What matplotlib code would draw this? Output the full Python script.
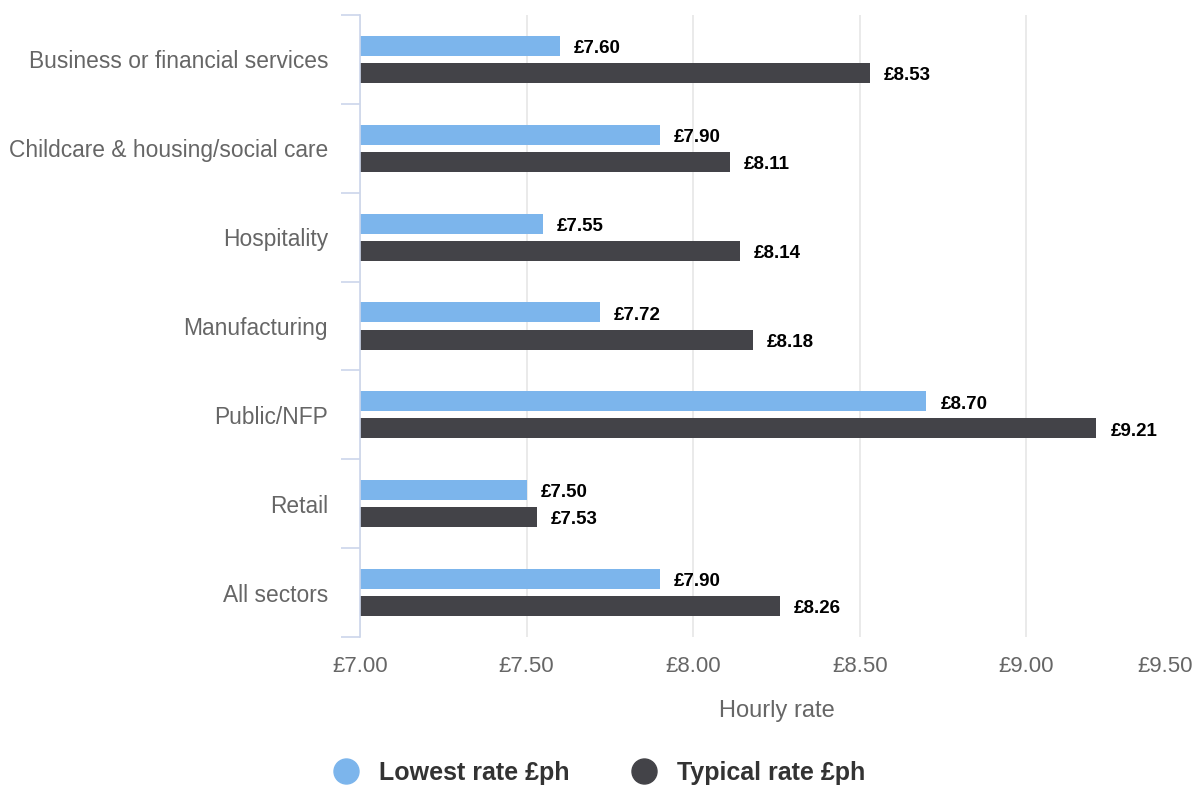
import numpy as np
import matplotlib.pyplot as plt
from matplotlib.lines import Line2D

plt.rcParams['font.family'] = ['Liberation Sans', 'DejaVu Sans']

sectors = ['Business or financial services', 'Childcare & housing/social care',
           'Hospitality', 'Manufacturing', 'Public/NFP', 'Retail', 'All sectors']
lowest = [7.60, 7.90, 7.55, 7.72, 8.70, 7.50, 7.90]
typical = [8.53, 8.11, 8.14, 8.18, 9.21, 7.53, 8.26]
xticks = [7.0, 7.5, 8.0, 8.5, 9.0, 9.5]

c_low = '#7cb5ec'
c_typ = '#434348'
c_axis = '#ccd6eb'
c_text = '#666666'

fig = plt.figure(figsize=(11.93, 7.86), dpi=100)
ax = fig.add_axes([360 / 1193, 149 / 786, 833 / 1193, 622 / 786])

y = np.arange(len(sectors))
off = 0.152
h = 0.225
ax.barh(y - off, lowest, height=h, color=c_low, zorder=3)
ax.barh(y + off, typical, height=h, color=c_typ, zorder=3)

for yi, v in zip(y - off, lowest):
    ax.annotate(f'£{v:.2f}', (v, yi), xytext=(10, -2), textcoords='offset points',
                va='center', ha='left', fontsize=13.5, fontweight='bold', color='black')
for yi, v in zip(y + off, typical):
    ax.annotate(f'£{v:.2f}', (v, yi), xytext=(10, -2), textcoords='offset points',
                va='center', ha='left', fontsize=13.5, fontweight='bold', color='black')

ax.set_xlim(7.0, 9.5)
ax.set_ylim(len(sectors) - 0.5, -0.5)

# category axis: labels centred, ticks on the boundaries
ax.set_yticks(y)
ax.set_yticklabels(sectors, fontsize=16.4, color=c_text)
ax.set_yticks(np.arange(-0.5, len(sectors)), minor=True)
ax.tick_params(axis='y', which='major', length=0, pad=23)
ax.tick_params(axis='y', which='minor', length=14, width=1.2, color=c_axis)

ax.set_xticks(xticks)
labels = ax.set_xticklabels([f'£{t:.2f}' for t in xticks], fontsize=16, color=c_text)
labels[-1].set_horizontalalignment('right')
ax.tick_params(axis='x', length=0, pad=14)
ax.set_xlabel('Hourly rate', fontsize=17, color=c_text, labelpad=16)

ax.grid(axis='x', color='#e6e6e6', linewidth=1.2, zorder=0)
ax.get_xgridlines()[-1].set_visible(False)
for side in ['top', 'right', 'bottom']:
    ax.spines[side].set_visible(False)
ax.spines['left'].set_color(c_axis)
ax.spines['left'].set_linewidth(1.2)
ax.spines['left'].set_zorder(4)

handles = [Line2D([], [], marker='o', linestyle='none', markersize=18, color=c_low),
           Line2D([], [], marker='o', linestyle='none', markersize=18, color=c_typ)]
fig.legend(handles, ['Lowest rate £ph', 'Typical rate £ph'], loc='center',
           bbox_to_anchor=(0.497, 13 / 786), ncol=2, frameon=False,
           prop={'size': 18, 'weight': 'bold'}, labelcolor='#333333',
           handletextpad=0.3, columnspacing=2.0)

fig.savefig('out.png', dpi=100)
